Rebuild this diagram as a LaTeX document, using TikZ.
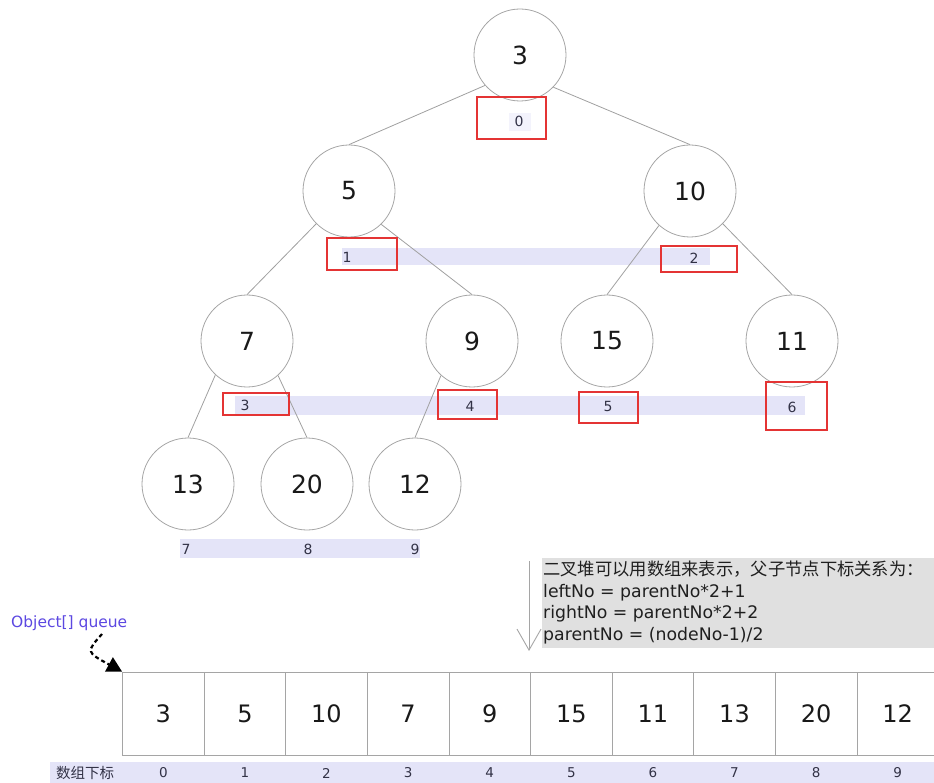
\documentclass[tikz,border=0pt]{standalone}
\usepackage{fontspec}
\setmainfont{DejaVu Sans}
\newfontfamily\cjk{Noto Sans CJK SC}
\usetikzlibrary{arrows.meta}
\definecolor{lav}{RGB}{228,228,248}
\definecolor{circgray}{RGB}{165,165,165}
\definecolor{edgegray}{RGB}{160,160,160}
\definecolor{redbox}{RGB}{228,52,52}
\definecolor{notegray}{RGB}{224,224,224}
\definecolor{idxcol}{RGB}{50,50,70}
\definecolor{qblue}{RGB}{92,72,225}
\begin{document}
\begin{tikzpicture}[x=1pt,y=-1pt,
  circ/.style={circle,draw=circgray,line width=0.8pt,minimum size=92pt,inner sep=0pt,font=\fontsize{25}{28}\selectfont,text=black!90},
  edge/.style={draw=edgegray,line width=0.8pt},
  idx/.style={inner sep=0pt,font=\fontsize{14}{16}\selectfont,text=idxcol},
  band/.style={fill=lav,draw=none},
  rbox/.style={draw=redbox,line width=2.4pt},
  cell/.style={rectangle,draw=circgray,line width=0.8pt,minimum width=81.6pt,minimum height=83pt,inner sep=0pt,font=\fontsize{24}{28}\selectfont,text=black!90},
  bidx/.style={inner sep=0pt,font=\fontsize{13.5}{15}\selectfont,text=idxcol}
]
\useasboundingbox (0,0) rectangle (934,783);

% index bands
\fill[lav!45] (509,113) rectangle (531,131);
\path[band] (342,248) rectangle (710,265);
\path[band] (235,396) rectangle (805,415);
\path[band] (180,539) rectangle (420,558);
\path[band] (50,762) rectangle (934,783);

% tree nodes
\node[circ] (n0) at (520,55) {3};
\node[circ] (n1) at (349,191) {5};
\node[circ] (n2) at (690,191) {10};
\node[circ] (n3) at (247,341) {7};
\node[circ] (n4) at (472,341) {9};
\node[circ] (n5) at (607,341) {15};
\node[circ] (n6) at (792,341) {11};
\node[circ] (n7) at (188,484) {13};
\node[circ] (n8) at (307,484) {20};
\node[circ] (n9) at (415,484) {12};

% edges
\draw[edge] (n0.221) -- (n1.north);
\draw[edge] (n0.316) -- (n2.north);
\draw[edge] (n1.225) -- (n3.north);
\draw[edge] (n1.314) -- (n4.north);
\draw[edge] (n2.228) -- (n5.north);
\draw[edge] (n2.315) -- (n6.north);
\draw[edge] (n3.227) -- (n7.north);
\draw[edge] (n3.312) -- (n8.north);
\draw[edge] (n4.228) -- (n9.north);

% index labels
\node[idx] (i0) at (519,121) {0};
\node[idx] (i1) at (347,257) {1};
\node[idx] (i2) at (694,258) {2};
\node[idx] (i3) at (245,405) {3};
\node[idx] (i4) at (470,406) {4};
\node[idx] (i5) at (608,406) {5};
\node[idx] (i6) at (792,407) {6};
\node[idx] (i7) at (186,549) {7};
\node[idx] (i8) at (308,549) {8};
\node[idx] (i9) at (415,549) {9};

% red boxes
\draw[rbox] (477,97) rectangle (546,139);
\draw[rbox] (327,238) rectangle (397,270);
\draw[rbox] (661,246) rectangle (737,272);
\draw[rbox] (223,393) rectangle (289,415);
\draw[rbox] (438,390) rectangle (497,419);
\draw[rbox] (579,392) rectangle (638,423);
\draw[rbox] (766,382) rectangle (827,430);

% note
\fill[notegray] (542,558) rectangle (934,648);
\node[anchor=north west,inner sep=0pt,align=left,text=black!88,
      font=\fontsize{17.3}{21.6}\selectfont] (note) at (543,561)
  {{\cjk 二叉堆可以用数组来表示，父子节点下标关系为：}\\
   leftNo = parentNo*2+1\\
   rightNo = parentNo*2+2\\
   parentNo = (nodeNo-1)/2};
\coordinate (ga) at (529,561);
\coordinate (gb) at (529,651);
\draw[draw=circgray,line width=0.9pt,-{Straight Barb[length=21pt,width=24pt,line width=0.9pt]}] (ga) -- (gb);

% array
\foreach \v [count=\i from 0] in {3,5,10,7,9,15,11,13,20,12} {
  \node[cell] (c\i) at ({163.3+81.6*\i},713.5) {\v};
  \node[bidx] (b\i) at ({163.3+81.6*\i},773) {\i};
}
\node[anchor=west,inner sep=0pt,text=idxcol,font=\cjk\fontsize{14.5}{16}\selectfont] (lbl) at (56,773) {数组下标};

% Object[] queue pointer
\node[anchor=west,inner sep=0pt,text=qblue,font=\fontsize{15.5}{17}\selectfont] (q) at (11,623) {Object[] queue};
\coordinate (qs) at (102,634);
\draw[line width=2.2pt,dash pattern=on 4pt off 3pt,-{Triangle[length=15pt,width=16pt]}]
  (qs) .. controls (86,652) .. (c0.north west);
\end{tikzpicture}
\end{document}
